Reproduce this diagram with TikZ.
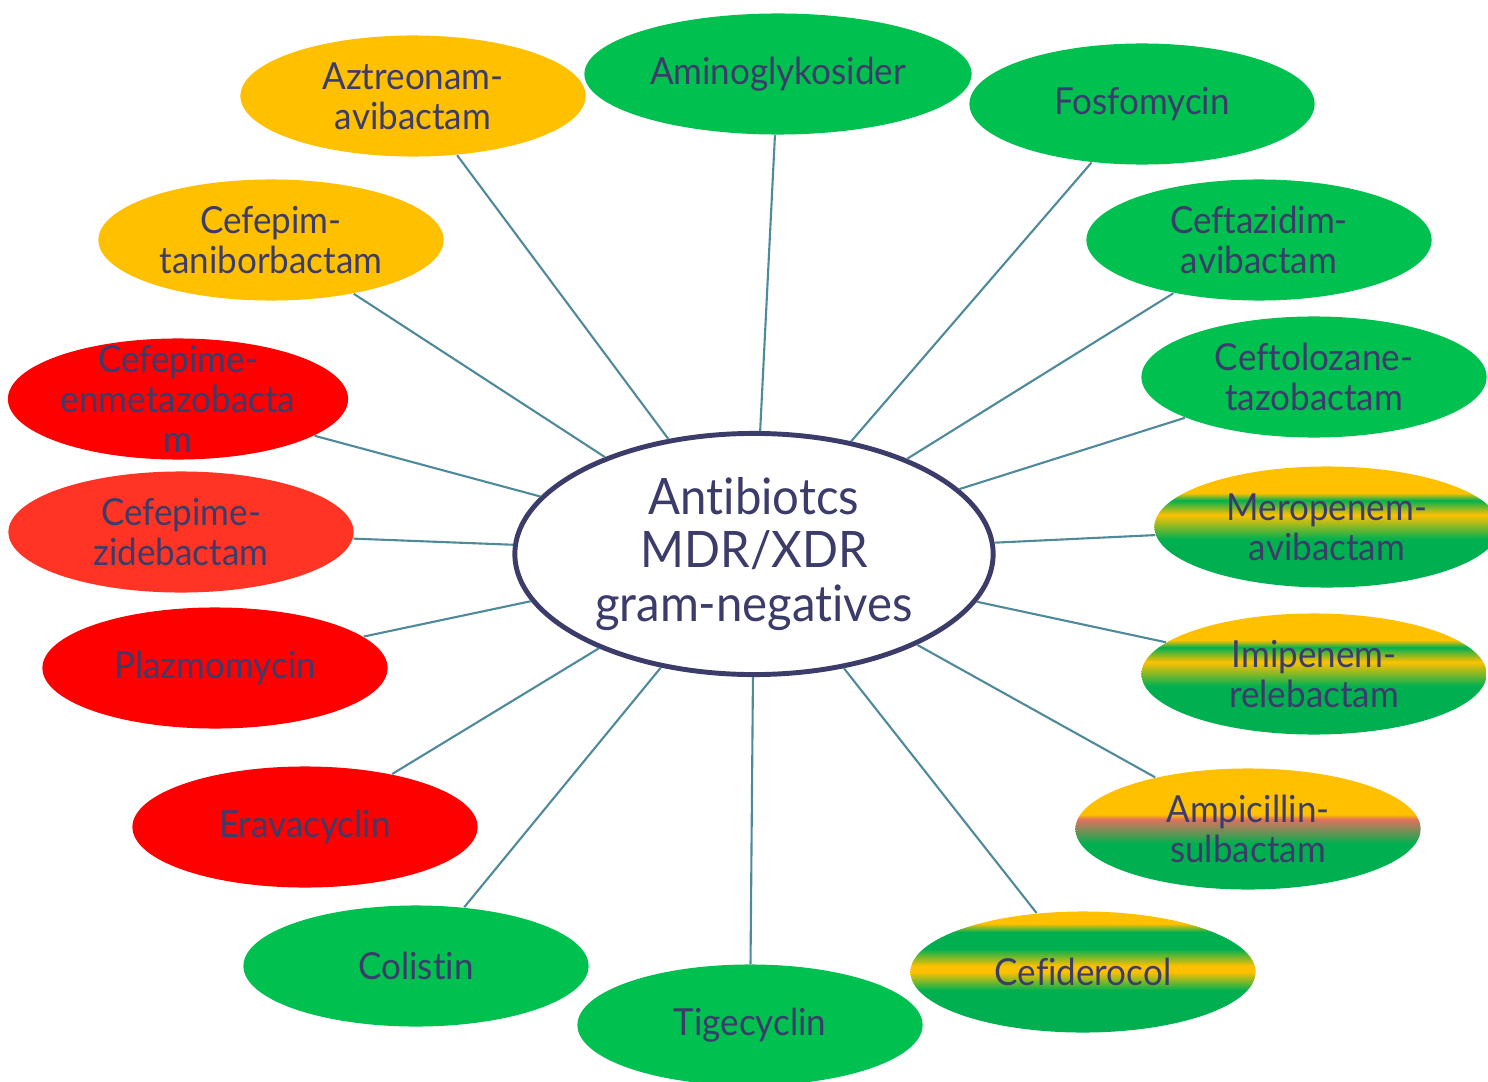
\documentclass[tikz,border=0pt]{standalone}
\usepackage{fontspec}
\setmainfont{Lato}[FakeStretch=0.94, Ligatures={NoCommon}]
\usepackage{tikz}
\usetikzlibrary{shapes.geometric}

\definecolor{ink}{HTML}{3C3C6B}
\definecolor{linkblue}{HTML}{4F8A9B}
\definecolor{gold}{HTML}{FFC000}
\definecolor{leaf}{HTML}{00C050}
\definecolor{leafdark}{HTML}{00B050}
\definecolor{alarm}{HTML}{FF0000}
\definecolor{alarmlight}{HTML}{FF3424}
\definecolor{salmon}{HTML}{E0705C}

% stripes, bottom to top (the node itself sits in 25bp..75bp)
\pgfdeclareverticalshading{carbastripe}{100bp}{color(0bp)=(leafdark); color(45bp)=(leafdark); color(55bp)=(gold); color(61bp)=(leafdark); color(64bp)=(gold); color(100bp)=(gold)}
\pgfdeclareverticalshading{ampistripe}{100bp}{color(0bp)=(leafdark); color(44bp)=(leafdark); color(54bp)=(salmon); color(56bp)=(gold); color(100bp)=(gold)}
\pgfdeclareverticalshading{cefistripe}{100bp}{color(0bp)=(leafdark); color(42.5bp)=(leafdark); color(50bp)=(gold); color(52.5bp)=(gold); color(59.5bp)=(leafdark); color(66.5bp)=(leafdark); color(70bp)=(gold); color(100bp)=(gold)}

\begin{document}
\begin{tikzpicture}[x=0.01cm, y=-0.01cm,
	drug/.style={ellipse, minimum width=3.45cm, minimum height=1.21cm, inner sep=0pt, align=center, text=ink, font=\fontsize{10.6}{11.4}\selectfont},
	link/.style={linkblue, line width=0.6pt}]
		\useasboundingbox (0,0) rectangle (1488,1082);
		\node[ellipse, draw=ink, line width=1.4pt, fill=white, minimum width=4.78cm, minimum height=2.41cm, inner sep=0pt, align=center, text=ink, font=\fontsize{14.3}{15.3}\selectfont] (hub) at (754,554) {Antibiotcs\\MDR/XDR\\gram-negatives};
		\node[drug, fill=gold] (aztreo) at (413,96) {Aztreonam-\\avibactam};
		\node[drug, fill=leaf, minimum width=3.87cm] (amino) at (778,74) {Aminoglykosider};
		\node[drug, fill=leaf] (fosfo) at (1142,104) {Fosfomycin};
		\node[drug, fill=leaf] (ceftaz) at (1259,240) {Ceftazidim-\\avibactam};
		\node[drug, fill=leaf] (ceftol) at (1314,377) {Ceftolozane-\\tazobactam};
		\node[drug, shade, shading=carbastripe] (mero) at (1327,527) {Meropenem-\\avibactam};
		\node[drug, shade, shading=carbastripe] (imi) at (1314,674) {Imipenem-\\relebactam};
		\node[drug, shade, shading=ampistripe] (ampi) at (1248,829) {Ampicillin-\\sulbactam};
		\node[drug, shade, shading=cefistripe] (cefid) at (1083,972) {Cefiderocol};
		\node[drug, fill=leaf] (tige) at (750,1025) {Tigecyclin};
		\node[drug, fill=leaf] (coli) at (416,966) {Colistin};
		\node[drug, fill=alarm] (erava) at (305,827) {Eravacyclin};
		\node[drug, fill=alarm] (plazo) at (215,668) {Plazmomycin};
		\node[drug, fill=alarmlight] (zide) at (181,532) {Cefepime-\\zidebactam};
		\node[drug, fill=alarm, minimum width=3.4cm] (enmeta) at (178,399) {};
		\node[drug, minimum width=0pt, minimum height=0pt] (enmetatxt) at (enmeta) {Cefepime-\\enmetazobacta\\m}; % text runs over the rim
		\node[drug, fill=gold] (tanibor) at (271,240) {Cefepim-\\taniborbactam};
		\foreach \d in {aztreo,amino,fosfo,ceftaz,ceftol,mero,imi,ampi,cefid,tige,coli,erava,plazo,zide,enmeta,tanibor}
			\draw[link] (hub) -- (\d);
		\end{tikzpicture}
\end{document}
